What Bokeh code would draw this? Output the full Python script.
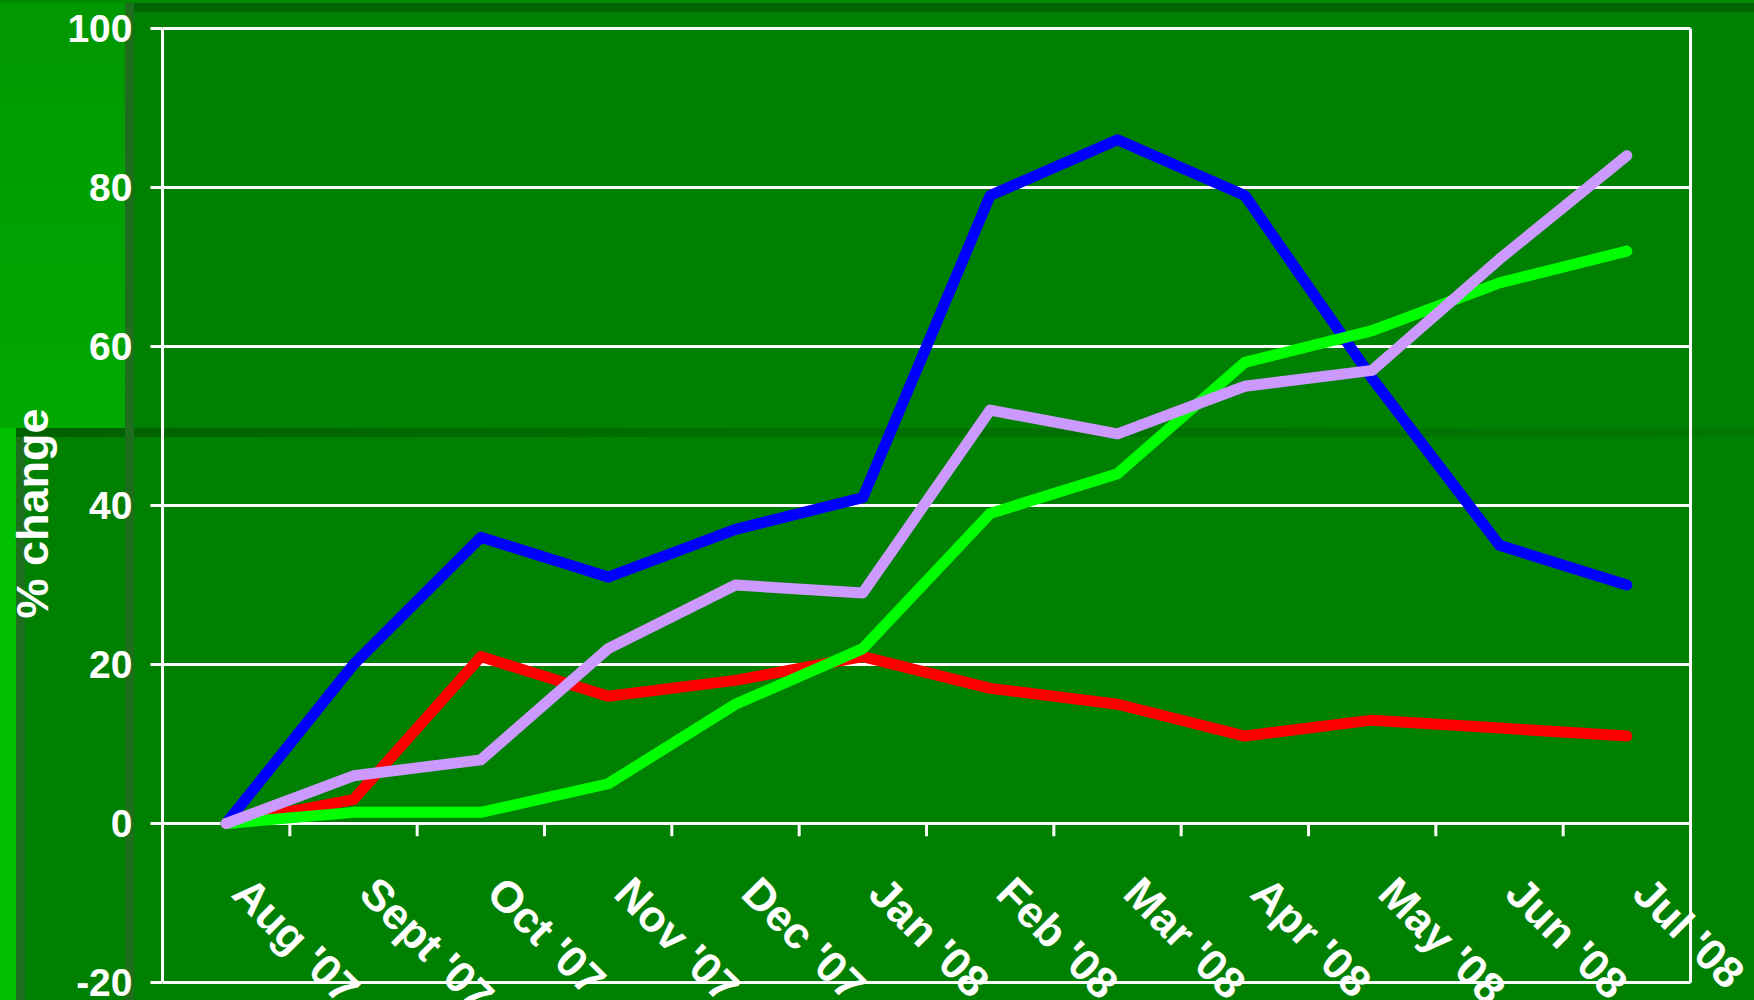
from bokeh.plotting import figure
from bokeh.models import Range1d, FixedTicker, Label, InlineStyleSheet, PrintfTickFormatter
from bokeh.embed import file_html
from bokeh.resources import INLINE

months = ["Aug '07", "Sept '07", "Oct '07", "Nov '07", "Dec '07", "Jan '08",
          "Feb '08", "Mar '08", "Apr '08", "May '08", "Jun '08", "Jul '08"]
blue_vals = [0, 20, 36, 31, 37, 41, 79, 86, 79, 56, 35, 30]
red_vals = [0, 3, 21, 16, 18, 21, 17, 15, 11, 13, 12, 11]
green_vals = [0, 1.4, 1.4, 5, 15, 22, 39, 44, 58, 62, 68, 72]
lavender_vals = [0, 6, 8, 22, 30, 29, 52, 49, 55, 57, 71, 84]
y_ticks = [-20, 0, 20, 40, 60, 80, 100]

n = len(months)
xs = [i + 0.5 for i in range(n)]
bounds = list(range(1, n))
y_lo, y_hi = y_ticks[0], y_ticks[-1]

# pixel layout of the plot area
px_per_cat = 1528 / n
px_per_unit = 954 / (y_hi - y_lo)
frame_w, frame_h = 1754 - 162, 1000 - 26
x_end = frame_w / px_per_cat
y_end = y_hi + 2 / px_per_unit
y_start = y_end - frame_h / px_per_unit

css = """
:host {
  background:
    linear-gradient(#1e6e1e, #1e6e1e) 125px 3px / 9px 1200px no-repeat,
    linear-gradient(to right, #006000, #006c00 30%, #007800) 16px 428px / 1800px 9px no-repeat,
    linear-gradient(#1e6e1e, #1e6e1e) 16px 428px / 9px 700px no-repeat,
    linear-gradient(#00c000, #00c000) 0px 428px / 16px 700px no-repeat,
    linear-gradient(#006400, #006400) 125px 3px / 1800px 9px no-repeat,
    linear-gradient(#008c00, #008c00) 0px 0px / 1800px 3px no-repeat,
    linear-gradient(to bottom, #009800, #00a800) 0px 0px / 125px 428px no-repeat,
    #008000;
}
"""

p = figure(frame_width=frame_w, frame_height=frame_h, output_backend="svg",
           toolbar_location=None,
           x_range=Range1d(0, x_end), y_range=Range1d(y_start, y_end),
           x_axis_location=None,
           min_border_left=162, min_border_right=0, min_border_top=26, min_border_bottom=0)
p.stylesheets = [InlineStyleSheet(css=css)]
p.background_fill_color = None
p.border_fill_color = None
p.outline_line_color = None
p.grid.visible = False

ax = p.yaxis[0]
ax.ticker = FixedTicker(ticks=y_ticks)
ax.formatter = PrintfTickFormatter(format="%d")
ax.bounds = (y_lo, y_hi)
ax.axis_line_color = "white"
ax.axis_line_width = 3
ax.major_tick_line_color = "white"
ax.major_tick_line_width = 3
ax.major_tick_out = 12
ax.major_tick_in = 0
ax.minor_tick_line_color = None
ax.major_label_text_color = "white"
ax.major_label_text_font = "Liberation Sans"
ax.major_label_text_font_style = "bold"
ax.major_label_text_font_size = "39px"
ax.major_label_standoff = 18
ax.axis_label = "% change"
ax.axis_label_text_color = "white"
ax.axis_label_text_font = "Liberation Sans"
ax.axis_label_text_font_style = "bold"
ax.axis_label_text_font_size = "45px"
ax.axis_label_standoff = 6

# horizontal grid lines and right border of the plot area
p.segment(x0=[0] * len(y_ticks), y0=y_ticks, x1=[n] * len(y_ticks), y1=y_ticks,
          line_color="white", line_width=3)
p.segment(x0=[n], y0=[y_lo], x1=[n], y1=[y_hi], line_color="white", line_width=3)

# category ticks on the zero line
p.segment(x0=bounds, y0=[0] * len(bounds), x1=bounds, y1=[-1.6] * len(bounds),
          line_color="white", line_width=3)

series = [(blue_vals, "#0000ff"), (red_vals, "#ff0000"),
          (green_vals, "#00ff00"), (lavender_vals, "#cc99ff")]
for vals, col in series:
    p.line(xs, vals, line_color=col, line_width=11, line_cap="round", line_join="round")

for x, m in zip(xs, months):
    p.add_layout(Label(x=x, y=0, text=m, angle=-45, angle_units="deg",
                       text_align="left", text_baseline="top",
                       x_offset=32, y_offset=-44,
                       text_color="white", text_font="Liberation Sans",
                       text_font_style="bold", text_font_size="44px"))

open("out.html", "w").write(file_html(p, INLINE))
